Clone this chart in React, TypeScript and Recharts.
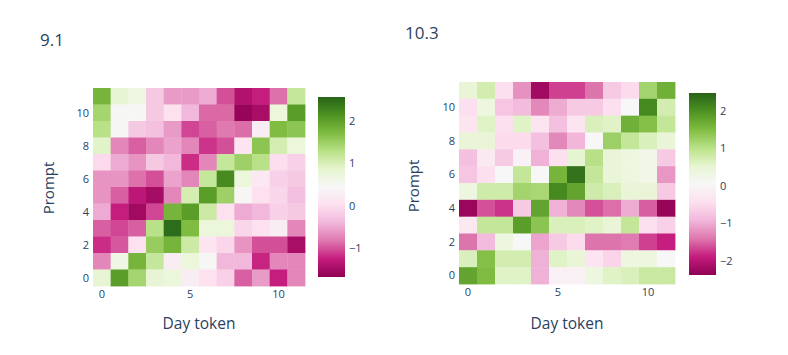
import { ScatterChart, Scatter, XAxis, YAxis, BarChart, Bar } from "recharts";

// day token / prompt indices
const days = [0, 1, 2, 3, 4, 5, 6, 7, 8, 9, 10, 11];
const prompts = [0, 1, 2, 3, 4, 5, 6, 7, 8, 9, 10, 11];
const xTicks = [0, 5, 10];
const yTicks = [0, 2, 4, 6, 8, 10];

// rows listed from prompt 11 (top) down to prompt 0
const z91 = [
  [1.79, 0.83, 0.65, -0.21, -0.58, -0.58, -0.48, -1.01, -1.39, -1.24, -0.85, 1.17],
  [1.43, 0.47, 0.47, -0.21, 0.04, -0.38, -0.89, -0.89, -1.6, -1.46, 0.75, 2.03],
  [1.28, 0.47, -0.21, -0.3, -0.58, -1.05, -0.93, -0.81, -0.87, 0.27, 1.71, 1.61],
  [0.91, -0.72, -0.93, -0.72, -0.53, -0.72, -1.13, -1.01, 0.11, 1.61, 1.04, 0.75],
  [-0.04, -0.48, -0.63, -0.21, -0.38, -1.17, -0.72, 1.17, 1.48, 1.28, 0.0, -0.14],
  [-0.63, -0.63, -0.85, -1.01, -0.53, -0.72, 1.17, 2.21, 0.75, 0.17, -0.14, -0.21],
  [-0.63, -0.93, -1.32, -1.49, -0.72, 1.04, 2.03, 1.48, 0.47, 0.04, -0.08, -0.3],
  [-0.48, -1.24, -1.52, -1.05, 1.79, 2.03, 1.11, 0.04, -0.48, -0.38, -0.14, -0.21],
  [-0.93, -1.05, -0.93, 1.28, 2.49, 1.71, 0.75, 0.75, -0.08, 0.04, 0.27, -0.72],
  [-1.17, -0.97, 0.04, 1.53, 1.79, 1.11, 0.11, -0.08, -0.63, -1.01, -1.01, -1.46],
  [-0.72, 0.65, 1.79, 1.17, 0.27, 0.75, 0.47, -0.38, -0.38, -1.21, -0.72, -0.72],
  [0.83, 2.03, 1.43, 0.83, 0.75, 0.27, 0.04, -0.14, -0.93, -0.58, -1.24, -0.72],
];

const z103 = [
  [0.44, 0.74, -0.42, -1.2, -2.2, -1.69, -1.69, -1.41, -0.68, -0.49, 1.21, 1.65],
  [-0.42, 0.35, -0.74, -0.85, -1.27, -1.0, -0.68, -0.68, -0.42, 0.05, 2.09, 0.74],
  [-0.34, 0.6, -0.42, 0.6, -0.34, -0.8, -0.34, 0.67, 0.6, 1.65, 1.47, 0.91],
  [0.44, 0.44, -0.49, -0.49, -0.8, -1.27, -0.91, 0.05, 1.26, 0.91, 0.67, 0.44],
  [-0.8, -0.24, -0.68, -0.08, -0.95, -0.42, 0.53, 1.02, 0.44, 0.35, 0.24, -0.68],
  [-0.74, -0.42, 0.05, 0.91, 0.05, 1.6, 2.32, 0.91, 0.44, 0.35, 0.24, -1.15],
  [0.35, 0.79, 0.79, 1.21, 1.16, 2.09, 1.79, 0.79, 0.67, 0.44, 0.44, -0.68],
  [-2.27, -1.6, -1.76, -0.68, 1.79, -0.95, -1.27, -1.6, -1.44, -1.0, -1.53, -2.3],
  [-0.24, 0.91, 0.91, 1.87, 1.4, 0.67, 0.67, 0.6, 0.44, 0.91, -0.42, -0.62],
  [-1.41, -0.85, 0.35, 0.05, -1.05, -0.68, -0.49, -1.41, -1.41, -1.36, -1.69, -1.87],
  [0.67, 1.47, 0.74, 0.74, -0.95, 0.6, 0.44, -0.34, -0.56, 0.35, 0.35, 0.05],
  [1.79, 1.52, 0.6, 0.6, -0.95, -0.08, -0.08, 0.35, 0.6, 0.67, 0.85, 0.85],
];

const range91 = [-1.67, 2.56];
const range103 = [-2.37, 2.48];
const cbTicks91 = [-1, 0, 1, 2];
const cbTicks103 = [-2, -1, 0, 1, 2];

// PiYG
const piyg = [
  "#8e0152", "#c51b7d", "#de77ae", "#f1b6da", "#fde0ef", "#f7f7f7",
  "#e6f5d0", "#b8e186", "#7fbc41", "#4d9221", "#276419",
];

const hex = (h: string) => [1, 3, 5].map((i) => parseInt(h.slice(i, i + 2), 16));

function colorAt(t: number) {
  const c = Math.max(0, Math.min(1, t)) * 10;
  const i = Math.min(9, Math.floor(c));
  const f = c - i;
  const a = hex(piyg[i]);
  const b = hex(piyg[i + 1]);
  const m = a.map((v, k) => Math.round(v + (b[k] - v) * f));
  return `rgb(${m[0]},${m[1]},${m[2]})`;
}

const ink = "#2a3f5f";
const font = "'Open Sans', verdana, arial, sans-serif";
const tick = { fill: ink, fontSize: 11, fontFamily: font };

function toCells(z: number[][]) {
  return z.flatMap((row, i) => row.map((v, j) => ({ day: days[j], prompt: prompts[11 - i], v })));
}

function Heatmap({ z, zr, left, top, width, height, m }: any) {
  const cw = (width - m.left - m.right - 30) / 12;
  const ch = (height - m.top - m.bottom - 30) / 12;
  const cell = (p: any) => (
    <rect
      x={p.cx - cw / 2}
      y={p.cy - ch / 2}
      width={cw + 0.4}
      height={ch + 0.4}
      fill={colorAt((p.payload.v - zr[0]) / (zr[1] - zr[0]))}
    />
  );
  return (
    <div style={{ position: "absolute", left, top }}>
      <ScatterChart width={width} height={height} margin={m}>
        <XAxis
          type="number"
          dataKey="day"
          domain={[-0.5, 11.5]}
          ticks={xTicks}
          height={30}
          axisLine={false}
          tickLine={false}
          tickSize={0}
          tickMargin={4}
          tick={tick}
        />
        <YAxis
          type="number"
          dataKey="prompt"
          domain={[-0.5, 11.5]}
          ticks={yTicks}
          width={30}
          axisLine={false}
          tickLine={false}
          tickSize={0}
          tickMargin={4}
          tick={tick}
        />
        <Scatter data={toCells(z)} shape={cell} isAnimationActive={false} />
      </ScatterChart>
    </div>
  );
}

function ColorBar({ id, zr, ticks, left, top, height }: any) {
  return (
    <div style={{ position: "absolute", left, top }}>
      <BarChart
        width={57}
        height={height}
        data={[{ k: "c", span: zr }]}
        margin={{ top: 0, right: 0, bottom: 0, left: 0 }}
        barCategoryGap={0}
      >
        <defs>
          <linearGradient id={id} x1="0" y1="1" x2="0" y2="0">
            {piyg.map((c, i) => (
              <stop key={i} offset={`${i * 10}%`} stopColor={c} />
            ))}
          </linearGradient>
        </defs>
        <XAxis dataKey="k" hide />
        <YAxis
          type="number"
          orientation="right"
          domain={zr}
          ticks={ticks}
          width={30}
          axisLine={false}
          tickLine={false}
          tickSize={0}
          tickMargin={4}
          tick={{ ...tick, textAnchor: "start" }}
          tickFormatter={(v: number) => (v < 0 ? `\u2212${-v}` : `${v}`)}
        />
        <Bar dataKey="span" fill={`url(#${id})`} isAnimationActive={false} />
      </BarChart>
    </div>
  );
}

const txt = (s: any) => ({ position: "absolute" as const, color: ink, fontFamily: font, whiteSpace: "nowrap" as const, ...s });

export default function App() {
  return (
    <div style={{ position: "absolute", left: 0, top: 0, width: 788, height: 355, background: "#fff" }}>
      <div style={txt({ left: 40, top: 28, fontSize: 17 })}>9.1</div>
      <div style={txt({ left: 405, top: 21, fontSize: 17 })}>10.3</div>

      <Heatmap z={z91} zr={range91} left={0} top={0} width={330} height={320}
        m={{ top: 88, right: 25, bottom: 4, left: 63 }} />
      <Heatmap z={z103} zr={range103} left={380} top={0} width={320} height={320}
        m={{ top: 82, right: 25, bottom: 6, left: 49 }} />

      <ColorBar id="cb91" zr={range91} ticks={cbTicks91} left={318} top={97} height={180} />
      <ColorBar id="cb103" zr={range103} ticks={cbTicks103} left={689} top={93} height={182} />

      <div style={txt({ left: 199, top: 323, fontSize: 15.5, transform: "translate(-50%,-50%)" })}>Day token</div>
      <div style={txt({ left: 567, top: 323, fontSize: 15.5, transform: "translate(-50%,-50%)" })}>Day token</div>
      <div style={txt({ left: 48, top: 188, fontSize: 15, transform: "translate(-50%,-50%) rotate(-90deg)" })}>Prompt</div>
      <div style={txt({ left: 413, top: 186, fontSize: 15, transform: "translate(-50%,-50%) rotate(-90deg)" })}>Prompt</div>
    </div>
  );
}
